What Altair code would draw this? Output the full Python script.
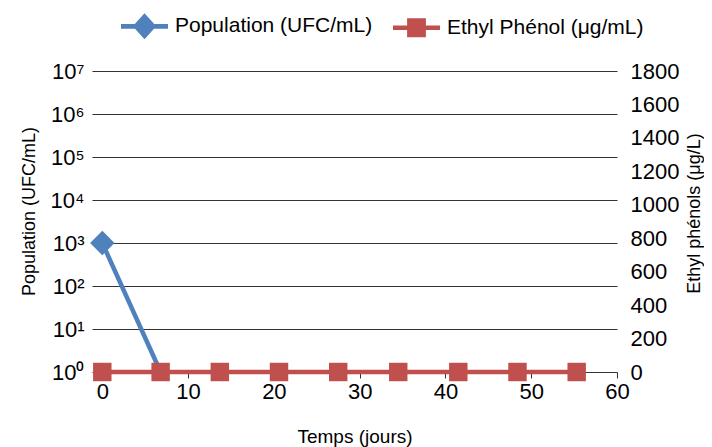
import altair as alt
import pandas as pd

# ---- data ----
days = [0, 6.8, 13.7, 20.6, 27.5, 34.5, 41.5, 48.4, 55.3]
ethyl_phenol = [0, 0, 0, 0, 0, 0, 0, 0, 0]
pop_days = [0, 6.8]
population = [1000, 1]
series = ["Population (UFC/mL)", "Ethyl Phénol (μg/mL)"]
left_ticks = [1, 10, 100, 1000, 10000, 100000, 1000000, 10000000]
right_ticks = [0, 200, 400, 600, 800, 1000, 1200, 1400, 1600, 1800]
x_ticks = [0, 10, 20, 30, 40, 50, 60]

BLUE = "#4F81BD"
RED = "#C0504D"
FONT = "Liberation Sans, Arial, sans-serif"

pop_df = pd.DataFrame({"day": pop_days, "pop": population})
eth_df = pd.DataFrame({"day": days, "eth": ethyl_phenol})
legend_df = pd.DataFrame({"series": series})

x_enc = alt.X(
    "day:Q",
    scale=alt.Scale(domain=[-1.2, 60], nice=False, zero=False),
    axis=alt.Axis(
        values=x_ticks, title="Temps (jours)", grid=False, domain=False,
        ticks=True, tickSize=6, tickColor="#333", labelFontSize=22,
        labelPadding=3, titleFontSize=19, titlePadding=25, labelFlush=False,
        format="d",
    ),
)

y_pop = alt.Y(
    "pop:Q",
    scale=alt.Scale(type="log", domain=[1, 1e7], nice=False),
    axis=alt.Axis(
        values=left_ticks,
        labelExpr="'10' + ['⁰','¹','²','³','⁴','⁵','⁶','⁷'][round(log(datum.value)/LN10)]",
        grid=True, gridColor="#333", gridWidth=1, ticks=False, domain=False,
        labelFontSize=22, labelPadding=8, title="Population (UFC/mL)",
        titleFontSize=18, titlePadding=12, titleY=140,
    ),
)

y_eth = alt.Y(
    "eth:Q",
    scale=alt.Scale(domain=[0, 1800], nice=False),
    axis=alt.Axis(
        orient="right", values=right_ticks, grid=False, ticks=False, domain=False,
        labelFontSize=22, labelPadding=13, title="Ethyl phénols (μg/L)",
        titleFontSize=18, titlePadding=7, titleAngle=270, titleBaseline="top",
        titleY=142, format="d",
    ),
)

pop_line = alt.Chart(pop_df).mark_line(color=BLUE, strokeWidth=4.5).encode(x=x_enc, y=y_pop)
pop_pts = (
    alt.Chart(pop_df)
    .transform_filter("datum.pop > 1")
    .mark_point(shape="diamond", filled=True, size=600, color=BLUE, opacity=1)
    .encode(x=x_enc, y=y_pop)
)
left = alt.layer(pop_line, pop_pts)

eth_line = alt.Chart(eth_df).mark_line(color=RED, strokeWidth=4.5).encode(x=x_enc, y=y_eth)
eth_pts = alt.Chart(eth_df).mark_point(
    shape="square", filled=True, size=340, color=RED, opacity=1
).encode(x=x_enc, y=y_eth)
right = alt.layer(eth_line, eth_pts)

pop_sym = ("M-1,-0.1L1,-0.1L1,0.1L-1,0.1Z "
           "M0,-0.55L0.5,0L0,0.55L-0.5,0Z")
eth_sym = ("M-1,-0.1L1,-0.1L1,0.1L-1,0.1Z "
           "M-0.4,-0.4L0.4,-0.4L0.4,0.4L-0.4,0.4Z")

leg = alt.Legend(
    title=None, orient="none", legendX=29, legendY=-68.5, direction="horizontal",
    symbolSize=2209, symbolStrokeWidth=0, symbolOpacity=1, labelFontSize=21,
    labelFont=FONT, labelOffset=7, columnPadding=20, padding=0, labelColor="black",
    labelLimit=400,
)
legend_layer = alt.Chart(legend_df).mark_point(filled=True, opacity=0).encode(
    color=alt.Color("series:N", scale=alt.Scale(domain=series, range=[BLUE, RED]), legend=leg),
    shape=alt.Shape("series:N", scale=alt.Scale(domain=series, range=[pop_sym, eth_sym]), legend=leg),
)

chart = (
    alt.layer(left, right, legend_layer)
    .resolve_scale(y="independent")
    .properties(
        width=525, height=301,
        autosize=alt.AutoSizeParams(type="none"),
        padding={"left": 84, "top": 63, "right": 87, "bottom": 75},
    )
    .configure_view(stroke=None)
    .configure_axis(
        labelFont=FONT, titleFont=FONT, labelColor="black", titleColor="black",
        titleFontWeight="normal",
    )
)

chart.save("out.html", embed_options={"renderer": "svg", "actions": False})
